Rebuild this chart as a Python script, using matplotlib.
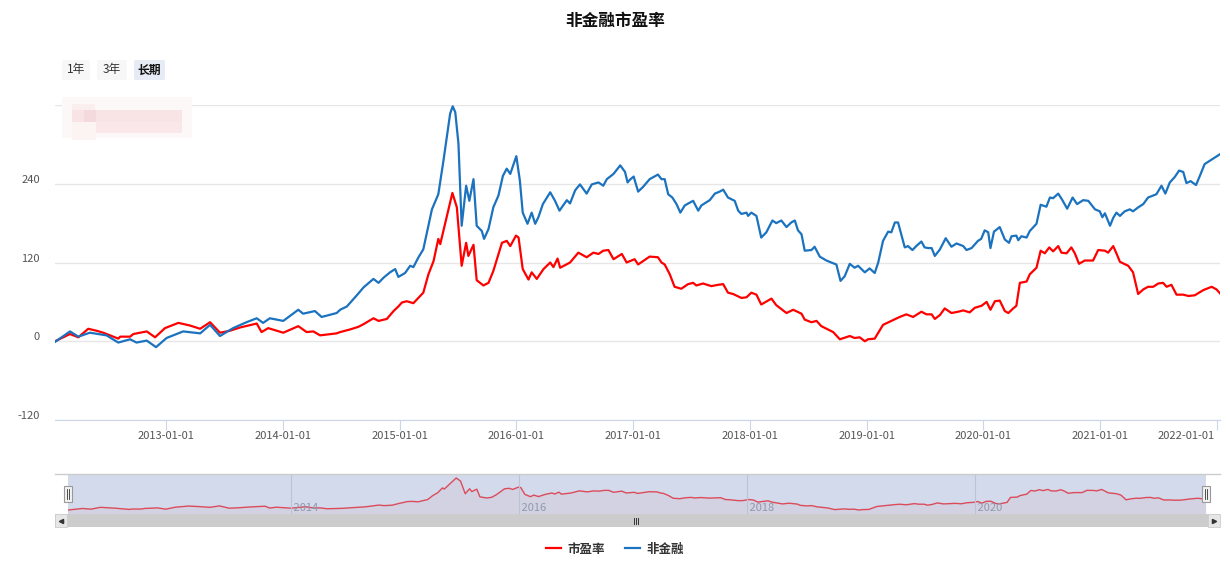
import numpy as np
import pandas as pd
import matplotlib
matplotlib.use('Agg')
import matplotlib.pyplot as plt
import matplotlib.dates as mdates
from matplotlib.patches import Rectangle, FancyBboxPatch
from matplotlib.lines import Line2D
from matplotlib.transforms import ScaledTranslation

plt.rcParams['font.family'] = ['Noto Sans CJK SC', 'DejaVu Sans']

title = '非金融市盈率'
series_names = ['市盈率', '非金融']
range_buttons = ['1年', '3年', '长期']

# 市盈率 (red)
pe_dates = [
    '2012-01-19', '2012-03-06', '2012-04-01', '2012-05-02', '2012-05-28', '2012-06-18',
    '2012-08-04', '2012-08-10', '2012-09-10', '2012-09-20', '2012-11-01', '2012-11-27',
    '2012-12-28', '2013-02-08', '2013-03-16', '2013-04-17', '2013-05-18', '2013-06-18',
    '2013-07-19', '2013-08-20', '2013-10-11', '2013-10-26', '2013-11-16', '2014-01-02',
    '2014-02-18', '2014-03-16', '2014-04-06', '2014-04-27', '2014-06-18', '2014-06-29',
    '2014-07-30', '2014-08-25', '2014-09-10', '2014-10-11', '2014-10-27', '2014-11-22',
    '2014-12-13', '2014-12-28', '2015-01-08', '2015-01-23', '2015-02-13', '2015-03-06',
    '2015-03-16', '2015-04-01', '2015-04-17', '2015-05-02', '2015-05-08', '2015-05-23',
    '2015-06-15', '2015-06-29', '2015-07-14', '2015-07-28', '2015-08-04', '2015-08-20',
    '2015-08-30', '2015-09-20', '2015-10-06', '2015-10-21', '2015-11-17', '2015-12-02',
    '2015-12-13', '2015-12-31', '2016-01-08', '2016-01-21', '2016-02-08', '2016-02-18',
    '2016-03-05', '2016-03-26', '2016-04-16', '2016-04-26', '2016-05-09', '2016-05-17',
    '2016-06-17', '2016-07-13', '2016-08-08', '2016-08-29', '2016-09-14', '2016-09-29',
    '2016-10-15', '2016-10-31', '2016-11-26', '2016-12-11', '2016-12-21', '2017-01-05',
    '2017-01-16', '2017-01-31', '2017-02-21', '2017-03-19', '2017-03-30', '2017-04-09',
    '2017-04-25', '2017-05-10', '2017-05-31', '2017-06-21', '2017-07-07', '2017-07-17',
    '2017-08-07', '2017-09-02', '2017-09-23', '2017-10-09', '2017-10-24', '2017-11-09',
    '2017-12-05', '2017-12-21', '2018-01-05', '2018-01-21', '2018-02-05', '2018-03-09',
    '2018-03-24', '2018-04-25', '2018-05-16', '2018-06-11', '2018-06-21', '2018-07-12',
    '2018-07-28', '2018-08-12', '2018-09-18', '2018-10-09', '2018-11-09', '2018-11-24',
    '2018-12-10', '2018-12-26', '2019-01-05', '2019-01-26', '2019-02-21', '2019-03-19',
    '2019-04-14', '2019-05-05', '2019-05-26', '2019-06-21', '2019-07-07', '2019-07-23',
    '2019-08-02', '2019-08-18', '2019-09-02', '2019-09-23', '2019-10-14', '2019-10-30',
    '2019-11-19', '2019-12-05', '2019-12-26', '2020-01-11', '2020-01-23', '2020-02-06',
    '2020-02-21', '2020-03-08', '2020-03-19', '2020-04-03', '2020-04-13', '2020-04-24',
    '2020-05-15', '2020-05-25', '2020-06-15', '2020-06-28', '2020-07-11', '2020-07-25',
    '2020-08-06', '2020-08-22', '2020-09-01', '2020-09-17', '2020-10-02', '2020-10-13',
    '2020-10-26', '2020-11-13', '2020-12-09', '2020-12-25', '2021-01-15', '2021-01-25',
    '2021-02-10', '2021-02-20', '2021-03-03', '2021-03-29', '2021-04-13', '2021-04-29',
    '2021-05-15', '2021-05-30', '2021-06-15', '2021-07-01', '2021-07-16', '2021-07-27',
    '2021-08-11', '2021-08-27', '2021-09-17', '2021-10-03', '2021-10-23', '2021-11-19',
    '2021-12-15', '2021-12-30', '2022-01-10',
]
pe_values = [
    0, 11, 6, 19, 16, 13,
    4, 7, 7, 11, 15, 6,
    20, 28, 24, 19, 29, 13,
    16, 21, 27, 14, 20, 13,
    23, 14, 15, 9, 12, 14,
    18, 22, 26, 35, 31, 34,
    46, 53, 59, 61, 58, 69,
    74, 102, 122, 156, 148, 179,
    226, 204, 115, 150, 130, 147,
    93, 85, 89, 107, 150, 153,
    145, 161, 158, 110, 94, 105,
    95, 110, 120, 113, 126, 112,
    120, 135, 128, 135, 133, 138,
    139, 125, 133, 120, 122, 125,
    117, 122, 129, 128, 120, 117,
    102, 83, 80, 87, 89, 85,
    88, 84, 86, 87, 74, 72,
    66, 67, 74, 71, 56, 65,
    55, 43, 48, 42, 33, 29,
    31, 23, 14, 3, 8, 5,
    6, 0, 3, 4, 25, 31,
    37, 41, 37, 45, 41, 41,
    34, 40, 50, 43, 45, 47,
    44, 51, 54, 60, 48, 61,
    62, 46, 43, 50, 54, 89,
    91, 102, 112, 138, 134, 143,
    137, 145, 135, 134, 143, 134,
    118, 123, 123, 139, 138, 135,
    145, 134, 121, 115, 105, 72,
    79, 83, 83, 88, 89, 83,
    86, 71, 71, 69, 70, 78,
    83, 79, 73,
]

# 非金融 (blue)
nf_dates = [
    '2012-01-19', '2012-03-06', '2012-04-01', '2012-05-07', '2012-06-28', '2012-08-04',
    '2012-09-10', '2012-09-30', '2012-11-01', '2012-11-30', '2013-01-02', '2013-02-23',
    '2013-04-17', '2013-05-18', '2013-06-18', '2013-07-29', '2013-09-09', '2013-10-11',
    '2013-10-31', '2013-11-21', '2014-01-02', '2014-02-18', '2014-03-05', '2014-04-11',
    '2014-05-02', '2014-06-18', '2014-06-29', '2014-07-20', '2014-08-20', '2014-09-10',
    '2014-10-11', '2014-10-27', '2014-11-12', '2014-12-02', '2014-12-18', '2014-12-28',
    '2015-01-18', '2015-02-03', '2015-02-13', '2015-03-01', '2015-03-16', '2015-04-12',
    '2015-05-02', '2015-05-18', '2015-06-08', '2015-06-16', '2015-06-24', '2015-07-04',
    '2015-07-14', '2015-07-28', '2015-08-07', '2015-08-20', '2015-08-30', '2015-09-15',
    '2015-09-22', '2015-10-06', '2015-10-21', '2015-11-06', '2015-11-20', '2015-12-02',
    '2015-12-13', '2016-01-01', '2016-01-12', '2016-01-21', '2016-02-05', '2016-02-18',
    '2016-02-29', '2016-03-10', '2016-03-24', '2016-04-16', '2016-05-01', '2016-05-15',
    '2016-06-07', '2016-06-17', '2016-07-03', '2016-07-18', '2016-08-08', '2016-08-24',
    '2016-09-14', '2016-09-29', '2016-10-10', '2016-10-31', '2016-11-21', '2016-12-06',
    '2016-12-14', '2016-12-21', '2017-01-02', '2017-01-16', '2017-01-31', '2017-02-21',
    '2017-03-19', '2017-03-30', '2017-04-09', '2017-04-20', '2017-05-03', '2017-05-16',
    '2017-05-28', '2017-06-11', '2017-07-07', '2017-07-23', '2017-08-02', '2017-08-28',
    '2017-09-13', '2017-09-28', '2017-10-09', '2017-10-24', '2017-11-14', '2017-11-25',
    '2017-12-05', '2017-12-21', '2017-12-26', '2018-01-05', '2018-01-21', '2018-02-05',
    '2018-02-21', '2018-03-12', '2018-03-24', '2018-04-09', '2018-04-25', '2018-05-10',
    '2018-05-21', '2018-05-31', '2018-06-11', '2018-06-21', '2018-07-12', '2018-07-22',
    '2018-08-07', '2018-08-28', '2018-09-12', '2018-09-28', '2018-10-11', '2018-10-24',
    '2018-11-09', '2018-11-24', '2018-12-05', '2018-12-26', '2019-01-10', '2019-01-26',
    '2019-02-06', '2019-02-21', '2019-03-09', '2019-03-19', '2019-03-30', '2019-04-09',
    '2019-04-19', '2019-04-30', '2019-05-10', '2019-05-24', '2019-06-05', '2019-06-21',
    '2019-07-01', '2019-07-12', '2019-07-23', '2019-08-02', '2019-08-18', '2019-09-05',
    '2019-09-23', '2019-10-09', '2019-10-30', '2019-11-09', '2019-11-25', '2019-12-15',
    '2019-12-25', '2020-01-05', '2020-01-16', '2020-01-23', '2020-02-03', '2020-02-21',
    '2020-03-08', '2020-03-21', '2020-03-29', '2020-04-13', '2020-04-19', '2020-04-29',
    '2020-05-15', '2020-05-25', '2020-06-15', '2020-06-28', '2020-07-16', '2020-07-27',
    '2020-08-06', '2020-08-22', '2020-09-04', '2020-09-19', '2020-10-06', '2020-10-20',
    '2020-11-08', '2020-11-24', '2020-12-15', '2020-12-30', '2021-01-07', '2021-01-15',
    '2021-01-31', '2021-02-10', '2021-02-20', '2021-03-03', '2021-03-18', '2021-04-03',
    '2021-04-13', '2021-04-29', '2021-05-15', '2021-05-30', '2021-06-15', '2021-06-25',
    '2021-07-11', '2021-07-23', '2021-08-06', '2021-08-21', '2021-09-04', '2021-09-17',
    '2021-09-27', '2021-10-10', '2021-10-27', '2021-11-08', '2021-11-23', '2021-12-09',
    '2021-12-25', '2022-01-10',
]
nf_values = [
    -1, 15, 7, 13, 9, -2,
    3, -2, 1, -9, 5, 15,
    12, 25, 8, 20, 29, 35,
    28, 35, 31, 48, 42, 46,
    37, 43, 48, 53, 70, 82,
    95, 89, 97, 105, 110, 98,
    104, 115, 113, 128, 140, 201,
    224, 275, 347, 358, 349, 301,
    176, 237, 214, 247, 176, 168,
    156, 171, 204, 222, 252, 263,
    255, 282, 245, 196, 179, 196,
    179, 189, 209, 227, 214, 199,
    215, 210, 230, 239, 225, 239,
    242, 237, 247, 255, 268, 258,
    242, 246, 251, 228, 235, 247,
    254, 247, 247, 224, 219, 209,
    196, 207, 214, 199, 207, 215,
    225, 228, 231, 219, 214, 199,
    194, 196, 191, 196, 191, 158,
    166, 184, 180, 184, 174, 181,
    184, 169, 163, 138, 139, 144,
    129, 123, 120, 117, 92, 99,
    118, 112, 115, 105, 111, 104,
    120, 153, 167, 166, 181, 181,
    163, 143, 145, 139, 145, 152,
    143, 142, 142, 130, 140, 157,
    144, 149, 145, 139, 142, 153,
    156, 169, 166, 142, 167, 174,
    155, 150, 160, 161, 154, 160,
    158, 168, 179, 208, 205, 219,
    218, 225, 215, 202, 219, 209,
    215, 214, 201, 198, 189, 195,
    176, 188, 196, 191, 198, 201,
    198, 204, 209, 219, 222, 224,
    237, 225, 242, 250, 260, 258,
    241, 244, 238, 252, 270, 275,
    280, 285,
]

y_ticks = [-120, 0, 120, 240, 360]
x_tick_years = list(range(2013, 2023))
nav_years = [2014, 2016, 2018, 2020]

pe_dates = pd.to_datetime(pe_dates)
nf_dates = pd.to_datetime(nf_dates)

W, H = 1230, 571
fig = plt.figure(figsize=(W / 100, H / 100), dpi=100)


def fx(px):
    return px / W


def fy(py):
    return 1 - py / H


def box(x0, y0, x1, y1, **kw):
    r = Rectangle((fx(x0), fy(y1)), (x1 - x0) / W, (y1 - y0) / H,
                  transform=fig.transFigure, **kw)
    fig.add_artist(r)
    return r


# main chart
ax = fig.add_axes([fx(55), fy(420), (1220 - 55) / W, (420 - 105) / H])
l1, = ax.plot(pe_dates, pe_values, color='#ff0000', lw=1.6, label=series_names[0])
l2, = ax.plot(nf_dates, nf_values, color='#1b72be', lw=1.6, label=series_names[1])
ax.set_ylim(-120, 360)
ax.set_xlim(pe_dates[0], pe_dates[-1])
ax.set_yticks(y_ticks)
ax.set_yticklabels([str(v) if v < 360 else '' for v in y_ticks])
ax.set_xticks(pd.to_datetime([f'{y}-01-01' for y in x_tick_years]))
ax.xaxis.set_major_formatter(mdates.DateFormatter('%Y-%m-%d'))
ax.grid(axis='y', color='#e6e6e6', lw=1)
ax.set_axisbelow(True)
for s in ['top', 'right', 'left']:
    ax.spines[s].set_visible(False)
ax.spines['bottom'].set_color('#ccd6eb')
ax.tick_params(axis='x', direction='out', length=7, color='#ccd6eb',
               labelcolor='#555555', labelsize=8, pad=1)
ax.tick_params(axis='y', length=0, labelcolor='#555555', labelsize=8, pad=11)
for lab in ax.get_yticklabels():
    lab.set_transform(lab.get_transform() + ScaledTranslation(0, 0.05, fig.dpi_scale_trans))
# last date label is pushed inside the plot, as the original does
fig.canvas.draw()
xlabs = ax.get_xticklabels()
xlabs[-1].set_horizontalalignment('right')
xlabs[-1].set_transform(xlabs[-1].get_transform() + ScaledTranslation(-0.02, 0, fig.dpi_scale_trans))

# title
fig.text(0.5, fy(21), title, ha='center', va='center', fontsize=12, fontweight='bold', color='#111111')

# range buttons
btn_spans = [(62, 90), (97, 127), (134, 165)]
for i, (name, (a, b)) in enumerate(zip(range_buttons, btn_spans)):
    sel = i == len(range_buttons) - 1
    p = FancyBboxPatch((fx(a), fy(80)), (b - a) / W, 20 / H,
                       boxstyle='round,pad=0,rounding_size=0.002',
                       transform=fig.transFigure, lw=0,
                       facecolor='#e6ebf5' if sel else '#f7f7f7')
    fig.add_artist(p)
    fig.text(fx((a + b) / 2), fy(70), name, ha='center', va='center', fontsize=8.5,
             color='#111111' if sel else '#333333', fontweight='bold' if sel else 'normal')

# blurred watermark
box(62, 97, 192, 138, facecolor='#fdf8f8', lw=0)
box(72, 104, 95, 111, facecolor='#fbeeee', lw=0)
box(72, 110, 182, 122, facecolor='#f8e3e5', lw=0)
box(84, 110, 96, 122, facecolor='#f5dadd', lw=0)
box(96, 122, 182, 133, facecolor='#f9e7e9', lw=0)
box(72, 122, 96, 140, facecolor='#fcf3f3', lw=0)

# navigator
fig.add_artist(Line2D([fx(55), fx(1220)], [fy(474), fy(474)], transform=fig.transFigure,
                      color='#cccccc', lw=1))
nav = fig.add_axes([fx(68), fy(514), (1206 - 68) / W, 40 / H])
nav.set_facecolor('#d2daec')
nav.plot(pe_dates, pe_values, color='#dc4b5a', lw=1)
nav.fill_between(pe_dates, pe_values, -40, color='#d9434f', alpha=0.05, lw=0)
nav.set_xlim(pe_dates[0], pe_dates[-1])
nav.set_ylim(-28, 254)
for y in nav_years:
    d = pd.Timestamp(f'{y}-01-01')
    nav.axvline(d, color='#bcc4d4', lw=0.8)
    nav.text(d, -22, f' {y}', color='#8f99ad', fontsize=8, ha='left', va='bottom')
nav.set_xticks([])
nav.set_yticks([])
for s in nav.spines.values():
    s.set_visible(False)

# navigator handles
for hx in (68, 1206):
    box(hx - 4, 486, hx + 4, 502, facecolor='#f2f2f2', edgecolor='#999999', lw=0.8)
    for dx in (-1.2, 1.2):
        fig.add_artist(Line2D([fx(hx + dx), fx(hx + dx)], [fy(489), fy(499)],
                              transform=fig.transFigure, color='#333333', lw=0.6))

# scrollbar
box(55, 514, 1220, 527, facecolor='#cccccc', lw=0)
box(55, 514, 67, 527, facecolor='#e6e6e6', edgecolor='#cccccc', lw=0.6)
box(1208, 514, 1220, 527, facecolor='#e6e6e6', edgecolor='#cccccc', lw=0.6)
fig.add_artist(Line2D([fx(61)], [fy(520.5)], transform=fig.transFigure, marker='<',
                      markersize=3, color='#333333', lw=0))
fig.add_artist(Line2D([fx(1214)], [fy(520.5)], transform=fig.transFigure, marker='>',
                      markersize=3, color='#333333', lw=0))
for dx in (-2, 0, 2):
    fig.add_artist(Line2D([fx(636 + dx), fx(636 + dx)], [fy(517.5), fy(523.5)],
                          transform=fig.transFigure, color='#333333', lw=0.7))

# legend
fig.legend(handles=[l1, l2], loc='center', bbox_to_anchor=(0.5, fy(549)), ncol=2,
           frameon=False, handlelength=1.2, handletextpad=0.5, columnspacing=1.6,
           prop={'size': 9, 'weight': 'bold'}, labelcolor='#333333')

fig.savefig('out.png', dpi=100)
